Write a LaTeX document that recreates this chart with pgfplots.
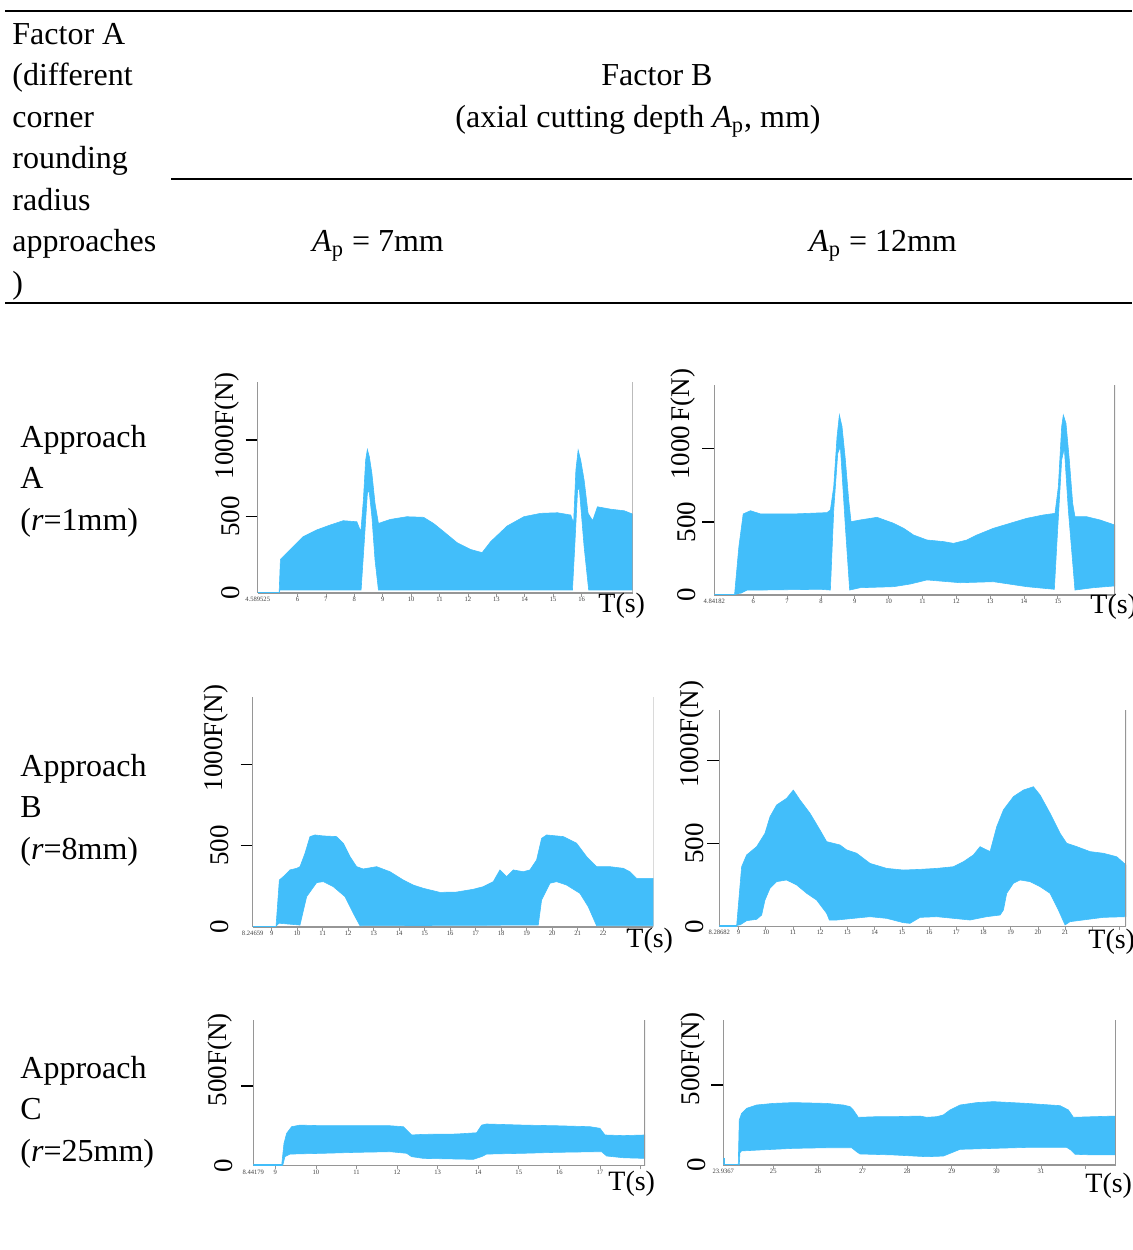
\documentclass[border=0pt]{standalone}
\usepackage{fontspec}
\setmainfont{Liberation Serif}
\usepackage{pgfplots}
\pgfplotsset{compat=1.18}
\definecolor{sig}{RGB}{66,190,250}
\definecolor{axgray}{RGB}{150,150,150}
\pgfplotsset{
  fc/.style={
    scale only axis, anchor=south west, ymin=0,
    axis x line*=bottom, axis y line*=left,
    axis line style={draw=axgray, line width=0.6pt},
    tick align=outside, major tick length=6pt, minor tick length=1.8pt,
    every major x tick/.append style={draw=none},
    every minor x tick/.append style={draw=axgray, line width=0.35pt},
    y tick style={draw=black, line width=0.8pt},
    xticklabel style={font=\fontsize{3.3}{4}\selectfont, text=black!75, inner sep=0.4pt},
    xticklabel shift=-4.6pt,
    yticklabel style={font=\fontsize{13.5}{14}\selectfont, rotate=90, anchor=south, inner sep=0pt},
    extra y ticks={0}, extra y tick labels={0},
    extra y tick style={y tick style={draw=none}},
    /pgf/number format/assume math mode=true,
  },
  band/.style={fill=sig, draw=sig, line width=0.3pt},
  base/.style={draw=sig, line width=0.8pt},
}
\begin{document}
\begin{tikzpicture}[x=0.5pt,y=0.5pt]
\useasboundingbox (0,0) rectangle (1132,-1250);
\tikzset{txt/.style={font=\fontsize{16}{19}\selectfont, inner sep=0pt}}
% table rules
\draw[line width=1.4pt] (5,-11) -- (1132,-11);
\draw[line width=0.7pt] (171,-179) -- (1132,-179);
\draw[line width=0.8pt] (5,-303) -- (1132,-303);
% header
\node[txt, anchor=base west] at (12,-44) {Factor A};
\node[txt, anchor=base west] at (12,-85.5) {(different};
\node[txt, anchor=base west] at (12,-127) {corner};
\node[txt, anchor=base west] at (12,-168.5) {rounding};
\node[txt, anchor=base west] at (12,-210) {radius};
\node[txt, anchor=base west] at (12,-251.5) {approaches};
\node[txt, anchor=base west] at (12,-293) {)};
\node[txt, anchor=base] at (657,-85.5) {Factor B};
\node[txt, anchor=base] at (638,-127) {(axial cutting depth \textit{A}\textsubscript{p}, mm)};
\node[txt, anchor=base] at (378,-251.5) {\textit{A}\textsubscript{p} = 7mm};
\node[txt, anchor=base] at (883,-251.5) {\textit{A}\textsubscript{p} = 12mm};
% row labels
\node[txt, anchor=base west] at (20,-447) {Approach};
\node[txt, anchor=base west] at (20,-488.5) {A};
\node[txt, anchor=base west] at (20,-530) {(\textit{r}=1mm)};
\node[txt, anchor=base west] at (20,-776) {Approach};
\node[txt, anchor=base west] at (20,-817.5) {B};
\node[txt, anchor=base west] at (20,-859) {(\textit{r}=8mm)};
\node[txt, anchor=base west] at (20,-1078) {Approach};
\node[txt, anchor=base west] at (20,-1119.5) {C};
\node[txt, anchor=base west] at (20,-1161) {(\textit{r}=25mm)};

% ---------- Chart 1: Approach A, Ap = 7mm
\begin{axis}[fc, at={(128.85pt,-296.5pt)}, width=187.5pt, height=105.5pt,
  xmin=4.6, xmax=17.8, ymax=1380,
  xtick={4.6,6,7,8,9,10,11,12,13,14,15,16},
  xticklabels={4.589525,6,7,8,9,10,11,12,13,14,15,16},
  minor xtick={6,7,8,9,10,11,12,13,14,15,16,17},
  ytick={500,1000}, yticklabels={500,{\rlap{\hspace*{-6pt}1000F(N)}\phantom{1000}}},
  yticklabel shift=2.8pt]
\addplot[base] coordinates {(4.6,3) (5.354,3)};
\addplot[band] coordinates {
(5.354,0) (5.40,220) (5.73,281) (6.20,368) (6.67,412) (7.14,444) (7.61,473) (8.09,466) (8.23,401) (8.32,608) (8.40,869) (8.46,939) (8.53,891) (8.62,782) (8.73,586) (8.85,455) (9.26,481) (9.85,499) (10.44,495) (10.79,455) (11.15,401) (11.62,329) (12.09,285) (12.50,264) (12.80,336) (13.38,438) (13.97,499) (14.56,521) (15.15,525) (15.62,510) (15.72,455) (15.80,804) (15.88,935) (15.97,869) (16.09,739) (16.23,521) (16.39,473) (16.56,564) (17.03,548) (17.50,538) (17.80,516)
(17.80,20) (16.25,20) (16.09,303) (15.92,684) (15.86,673) (15.76,303) (15.68,20) (8.85,20) (8.73,216) (8.62,499) (8.52,673) (8.46,651) (8.34,303) (8.24,20) (5.40,20)};
\draw[axgray, line width=0.6pt] (rel axis cs:1,0) -- (rel axis cs:1,1);
\end{axis}
\node[font=\fontsize{14}{14}\selectfont, inner sep=0, anchor=base west] at (598,-612) {T(s)};

% ---------- Chart 2: Approach A, Ap = 12mm
\begin{axis}[fc, at={(357.15pt,-297.5pt)}, width=200.35pt, height=105pt,
  xmin=4.85, xmax=16.69, ymax=1435,
  xtick={4.85,6,7,8,9,10,11,12,13,14,15},
  xticklabels={4.84182,6,7,8,9,10,11,12,13,14,15},
  minor xtick={6,7,8,9,10,11,12,13,14,15,16},
  ytick={500,1000}, yticklabels={500,{\rlap{\hspace*{-2pt}1000\,F(N)}\phantom{1000}}},
  yticklabel shift=3.2pt]
\addplot[base] coordinates {(4.85,3) (5.448,3)};
\addplot[band] coordinates {
(5.448,0) (5.576,330) (5.704,554) (5.920,576) (6.215,554) (7.199,554) (8.182,563) (8.280,581) (8.379,740) (8.477,1082) (8.546,1230) (8.624,1151) (8.723,923) (8.821,649) (8.890,501) (9.165,513) (9.657,531) (10.148,490) (10.443,456) (10.738,410) (11.132,376) (11.623,365) (11.918,353) (12.312,376) (12.607,410) (13.098,456) (13.590,490) (14.082,524) (14.573,547) (14.917,558) (15.016,740) (15.114,1151) (15.163,1230) (15.242,1173) (15.340,923) (15.439,627) (15.507,535) (15.852,535) (16.245,513) (16.687,478)
(16.687,62) (16.048,50) (15.507,34) (15.311,581) (15.193,1003) (15.114,923) (14.967,330) (14.898,39) (14.573,46) (14.082,57) (13.098,91) (12.115,84) (11.132,103) (10.640,75) (10.148,57) (9.165,50) (8.850,34) (8.723,467) (8.575,1014) (8.497,968) (8.379,581) (8.280,34) (7.985,39) (6.215,34) (5.822,34) (5.625,11)};
\draw[axgray, line width=0.6pt] (rel axis cs:1,0) -- (rel axis cs:1,1);
\end{axis}
\node[font=\fontsize{14}{14}\selectfont, inner sep=0, anchor=base west] at (1090,-613) {T(s)};

% ---------- Chart 3: Approach B, Ap = 7mm
\begin{axis}[fc, at={(126.35pt,-463.5pt)}, width=200.3pt, height=115.15pt,
  xmin=8.256, xmax=23.97, ymax=1416,
  xtick={8.256,9,10,11,12,13,14,15,16,17,18,19,20,21,22},
  xticklabels={8.24659,9,10,11,12,13,14,15,16,17,18,19,20,21,22},
  minor xtick={9,10,11,12,13,14,15,16,17,18,19,20,21,22,23},
  ytick={500,1000}, yticklabels={500,{1000\rlap{F(N)}}},
  yticklabel shift=6pt]
\addplot[base] coordinates {(8.256,3) (9.17,3)};
\addplot[band] coordinates {
(9.170,2) (9.301,289) (9.458,310) (9.719,351) (9.980,361) (10.111,371) (10.307,453) (10.503,556) (10.699,566) (11.026,560) (11.549,556) (11.810,515) (12.072,433) (12.333,371) (12.595,357) (13.118,371) (13.641,340) (14.163,289) (14.556,258) (14.948,238) (15.601,213) (16.255,215) (16.908,232) (17.301,248) (17.693,279) (17.954,351) (18.216,310) (18.477,351) (18.869,340) (19.131,351) (19.392,412) (19.588,545) (19.784,566) (20.438,556) (20.961,515) (21.353,433) (21.745,371) (22.268,371) (22.791,361) (23.052,340) (23.314,299) (23.967,299)
(23.967,8) (21.745,8) (21.418,125) (21.092,207) (20.569,258) (20.176,279) (19.915,269) (19.588,166) (19.458,12) (12.464,8) (12.203,84) (11.876,187) (11.418,248) (11.026,279) (10.765,273) (10.373,187) (10.111,12) (9.301,23)};
\draw[axgray, line width=0.6pt] (rel axis cs:1,0) -- (rel axis cs:1,1);
\end{axis}
\node[font=\fontsize{14}{14}\selectfont, inner sep=0, anchor=base west] at (626,-947) {T(s)};

% ---------- Chart 4: Approach B, Ap = 12mm
\begin{axis}[fc, at={(359.65pt,-463.15pt)}, width=203.35pt, height=108.15pt,
  xmin=8.289, xmax=23.24, ymax=1303,
  xtick={8.289,9,10,11,12,13,14,15,16,17,18,19,20,21},
  xticklabels={8.28682,9,10,11,12,13,14,15,16,17,18,19,20,21},
  minor xtick={9,10,11,12,13,14,15,16,17,18,19,20,21,22,23},
  ytick={500,1000}, yticklabels={500,{1000\rlap{F(N)}}},
  yticklabel shift=1.5pt]
\addplot[base] coordinates {(8.289,3) (8.926,3)};
\addplot[band] coordinates {
(8.926,2) (9.110,359) (9.294,430) (9.662,480) (9.968,560) (10.152,660) (10.397,731) (10.765,771) (11.010,821) (11.255,761) (11.623,681) (11.991,580) (12.236,510) (12.481,500) (12.726,490) (12.972,460) (13.339,440) (13.830,379) (14.442,349) (15.054,339) (15.668,343) (16.281,349) (16.894,359) (17.262,389) (17.630,430) (17.875,480) (18.243,450) (18.488,600) (18.733,701) (19.100,781) (19.468,821) (19.836,841) (20.081,791) (20.449,681) (20.817,560) (21.062,500) (21.430,480) (21.920,450) (22.410,440) (22.900,419) (23.244,369)
(23.244,58) (22.410,54) (21.184,28) (21.000,8) (20.755,98) (20.449,199) (20.081,239) (19.713,269) (19.346,279) (19.100,259) (18.855,199) (18.733,98) (18.610,68) (18.120,58) (17.507,38) (16.281,58) (15.668,54) (15.300,18) (15.054,22) (14.442,48) (13.830,58) (13.217,48) (12.604,38) (12.334,38) (12.236,78) (11.868,158) (11.501,199) (11.133,249) (10.765,279) (10.397,269) (10.152,229) (9.968,158) (9.846,68) (9.662,42) (9.294,34) (9.049,8)};
\draw[axgray, line width=0.6pt] (rel axis cs:1,0) -- (rel axis cs:1,1);
\end{axis}
\node[font=\fontsize{14}{14}\selectfont, inner sep=0, anchor=base west] at (1088,-948) {T(s)};

% ---------- Chart 5: Approach C, Ap = 7mm
\begin{axis}[fc, at={(126.65pt,-582.85pt)}, width=195.85pt, height=72.85pt,
  xmin=8.458, xmax=18.11, ymax=915,
  xtick={8.458,9,10,11,12,13,14,15,16,17},
  xticklabels={8.44179,9,10,11,12,13,14,15,16,17},
  minor xtick={9,10,11,12,13,14,15,16,17,18},
  ytick={500}, yticklabels={{500\rlap{F(N)}}},
  yticklabel shift=4.2pt]
\addplot[base] coordinates {(8.458,3) (9.156,3)};
\addplot[band] coordinates {
(9.156,0) (9.214,140) (9.279,203) (9.402,245) (9.608,255) (10.183,251) (11.004,251) (11.825,251) (12.154,245) (12.277,214) (12.359,193) (12.647,197) (13.468,199) (13.961,207) (14.084,255) (14.207,262) (15.111,255) (15.932,251) (16.754,245) (17.000,235) (17.123,193) (17.575,189) (18.109,193)
(18.109,46) (17.575,50) (17.164,61) (17.041,88) (16.918,88) (15.932,84) (15.111,78) (14.207,73) (14.084,57) (13.879,40) (12.647,46) (12.359,57) (12.236,78) (11.825,88) (11.004,84) (10.183,78) (9.361,73) (9.238,57) (9.181,0)};
\draw[axgray, line width=0.6pt] (rel axis cs:1,0) -- (rel axis cs:1,1);
\end{axis}
\node[font=\fontsize{14}{14}\selectfont, inner sep=0, anchor=base west] at (608,-1190) {T(s)};

% ---------- Chart 6: Approach C, Ap = 12mm
\begin{axis}[fc, at={(361.65pt,-582.5pt)}, width=196.35pt, height=72.5pt,
  xmin=23.88, xmax=32.68, ymax=906,
  xtick={23.88,25,26,27,28,29,30,31},
  xticklabels={23.9367,25,26,27,28,29,30,31},
  minor xtick={25,26,27,28,29,30,31,32},
  ytick={500}, yticklabels={{500\rlap{F(N)}}},
  yticklabel shift=2.7pt]
\addplot[base] coordinates {(23.89,45) (23.89,3) (24.215,3)};
\addplot[band] coordinates {
(24.215,0) (24.238,281) (24.290,323) (24.402,354) (24.626,375) (25.000,385) (25.448,390) (26.196,385) (26.570,375) (26.719,365) (26.794,344) (26.906,298) (27.317,302) (27.691,302) (28.288,306) (28.438,298) (28.662,302) (28.812,313) (28.961,344) (29.185,375) (29.559,390) (29.933,396) (30.680,385) (31.427,371) (31.614,344) (31.726,298) (32.175,302) (32.683,306)
(32.683,63) (32.175,63) (31.764,67) (31.667,94) (31.577,110) (30.680,110) (29.933,104) (29.185,98) (28.999,77) (28.812,56) (28.438,52) (27.691,63) (26.943,69) (26.868,83) (26.756,108) (26.196,108) (25.448,104) (24.701,94) (24.290,88) (24.253,77) (24.238,0)};
\draw[axgray, line width=0.6pt] (rel axis cs:1,0) -- (rel axis cs:1,1);
\end{axis}
\node[font=\fontsize{14}{14}\selectfont, inner sep=0, anchor=base west] at (1085,-1192) {T(s)};
\end{tikzpicture}
\end{document}
